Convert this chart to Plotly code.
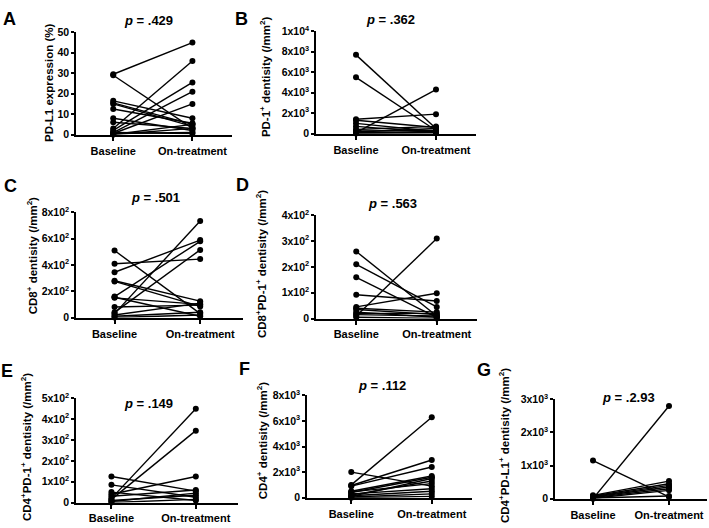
import plotly.graph_objects as go

W, H = 709, 528
categories = ["Baseline", "On-treatment"]

# ---- data (paired: baseline -> on-treatment) ----
base_A = [29.5, 29, 16.5, 15.5, 15, 12.5, 8, 6, 3, 2, 1, 0.5, 0, 0, 0.5, 1]
ot_A = [45, 3, 8, 5, 4, 5.5, 2, 3, 36, 25.5, 21, 15, 5, 3, 1, 0.5]

base_B = [7700, 5500, 1400, 1300, 1000, 700, 400, 250, 150, 100, 50, 50, 0]
ot_B = [500, 300, 1900, 600, 200, 100, 700, 300, 500, 4300, 200, 100, 50]

base_C = [510, 410, 345, 280, 275, 160, 155, 150, 80, 40, 30, 20, 10, 0]
ot_C = [30, 445, 590, 125, 85, 580, 10, 100, 95, 515, 735, 110, 40, 20]

base_D = [260, 210, 160, 92, 45, 40, 35, 25, 20, 15, 10, 5]
ot_D = [10, 45, 5, 68, 98, 25, 15, 5, 20, 10, 310, 0]

base_E = [125, 85, 50, 40, 30, 20, 15, 10, 5, 0]
ot_E = [55, 25, 10, 125, 60, 450, 345, 35, 45, 15]

base_F = [2000, 1000, 950, 900, 500, 450, 400, 300, 200, 150, 100, 50, 0]
ot_F = [900, 6300, 2950, 2400, 1700, 1100, 1600, 700, 1300, 500, 1500, 300, 100]

base_G = [1150, 100, 80, 60, 50, 30, 20, 10, 0]
ot_G = [50, 530, 450, 400, 350, 300, 80, 250, 2800]

p_values = [".429", ".362", ".501", ".563", ".149", ".112", ".2.93"]

ticks_A = [0, 10, 20, 30, 40, 50]
labels_A = ["0", "10", "20", "30", "40", "50"]
ticks_B = [0, 2000, 4000, 6000, 8000, 10000]
labels_B = ["0", "2x10<sup>3</sup>", "4x10<sup>3</sup>", "6x10<sup>3</sup>", "8x10<sup>3</sup>", "1x10<sup>4</sup>"]
ticks_C = [0, 200, 400, 600, 800]
labels_C = ["0", "2x10<sup>2</sup>", "4x10<sup>2</sup>", "6x10<sup>2</sup>", "8x10<sup>2</sup>"]
ticks_D = [0, 100, 200, 300, 400]
labels_D = ["0", "1x10<sup>2</sup>", "2x10<sup>2</sup>", "3x10<sup>2</sup>", "4x10<sup>2</sup>"]
ticks_E = [0, 100, 200, 300, 400, 500]
labels_E = ["0", "1x10<sup>2</sup>", "2x10<sup>2</sup>", "3x10<sup>2</sup>", "4x10<sup>2</sup>", "5x10<sup>2</sup>"]
ticks_F = [0, 2000, 4000, 6000, 8000]
labels_F = ["0", "2x10<sup>3</sup>", "4x10<sup>3</sup>", "6x10<sup>3</sup>", "8x10<sup>3</sup>"]
ticks_G = [0, 1000, 2000, 3000]
labels_G = ["0", "1x10<sup>3</sup>", "2x10<sup>3</sup>", "3x10<sup>3</sup>"]

titles = [
    "PD-L1 expression (%)",
    "PD-1<sup>+</sup> dentisity (/mm<sup>2</sup>)",
    "CD8<sup>+</sup> dentisity (/mm<sup>2</sup>)",
    "CD8<sup>+</sup>PD-1<sup>+</sup> dentisity (/mm<sup>2</sup>)",
    "CD4<sup>+</sup>PD-1<sup>+</sup> dentisity (/mm<sup>2</sup>)",
    "CD4<sup>+</sup> dentisity (/mm<sup>2</sup>)",
    "CD4<sup>+</sup>PD-L1<sup>+</sup> dentisity (/mm<sup>2</sup>)",
]
letters = ["A", "B", "C", "D", "E", "F", "G"]

# ---- layout geometry (pixels) ----
panels = [
    dict(base=base_A, ot=ot_A, px=(76, 232), py=(25, 130), xr=[-0.47, 1.5], yr=[0, 50], tv=ticks_A, tt=labels_A, txy=(49, 77), lxy=(9, 11), pxy=(148, 13)),
    dict(base=base_B, ot=ot_B, px=(316, 476), py=(24, 129), xr=[-0.5, 1.5], yr=[0, 10000], tv=ticks_B, tt=labels_B, txy=(265, 71), lxy=(241, 11), pxy=(390, 12)),
    dict(base=base_C, ot=ot_C, px=(76, 243), py=(210, 318), xr=[-0.45, 1.5], yr=[0, 800], tv=ticks_C, tt=labels_C, txy=(32, 255), lxy=(10, 183), pxy=(155, 195)),
    dict(base=base_D, ot=ot_D, px=(316, 477), py=(213, 319), xr=[-0.5, 1.5], yr=[0, 400], tv=ticks_D, tt=labels_D, txy=(261, 263), lxy=(242, 182), pxy=(392, 201)),
    dict(base=base_E, ot=ot_E, px=(76, 238), py=(401, 508), xr=[-0.42, 1.5], yr=[0, 500], tv=ticks_E, tt=labels_E, txy=(26, 451), lxy=(7, 373), pxy=(148, 406)),
    dict(base=base_F, ot=ot_F, px=(307, 472), py=(398, 503), xr=[-0.55, 1.5], yr=[0, 8000], tv=ticks_F, tt=labels_F, txy=(262, 445), lxy=(244, 371), pxy=(382, 388)),
    dict(base=base_G, ot=ot_G, px=(555, 707), py=(402, 504), xr=[-0.5, 1.5], yr=[0, 3000], tv=ticks_G, tt=labels_G, txy=(504, 450), lxy=(484, 372), pxy=(628, 400)),
]

FONT = "Liberation Sans, Arial, Helvetica, sans-serif"

fig = go.Figure()
layout = dict(
    width=W, height=H, margin=dict(l=0, r=0, t=0, b=0),
    paper_bgcolor="white", plot_bgcolor="white", showlegend=False,
    font=dict(family=FONT, color="black"),
)
annotations = []

def fx(px):
    return px / W

def fy(py):
    return 1 - py / H

for i, p in enumerate(panels):
    n = "" if i == 0 else str(i + 1)
    xs, ys = [], []
    for b, o in zip(p["base"], p["ot"]):
        xs += [categories[0], categories[1], None]
        ys += [b, o, None]
    fig.add_trace(go.Scatter(
        x=xs, y=ys, mode="lines+markers", xaxis="x" + n, yaxis="y" + n,
        line=dict(color="black", width=1.4),
        marker=dict(color="black", size=6),
        cliponaxis=False, hoverinfo="skip",
    ))
    layout["xaxis" + n] = dict(
        domain=[fx(p["px"][0]), fx(p["px"][1])], anchor="y" + n,
        type="category", categoryorder="array", categoryarray=categories,
        range=p["xr"], showline=True, linecolor="black", linewidth=1.5,
        ticks="outside", ticklen=5, tickwidth=1.5, tickcolor="black",
        showgrid=False, zeroline=False,
        tickfont=dict(family=FONT, size=11, color="black", weight="bold"),
    )
    layout["yaxis" + n] = dict(
        domain=[fy(p["py"][1]), fy(p["py"][0])], anchor="x" + n,
        range=p["yr"], tickvals=p["tv"], ticktext=p["tt"],
        showline=True, linecolor="black", linewidth=1.5,
        ticks="outside", ticklen=3, tickwidth=1.5, tickcolor="black",
        showgrid=False, zeroline=False,
        tickfont=dict(family=FONT, size=10.5, color="black", weight="bold"),
    )
    annotations.append(dict(
        text=titles[i], textangle=-90, xref="paper", yref="paper",
        x=fx(p["txy"][0]), y=fy(p["txy"][1]),
        xanchor="center", yanchor="middle", showarrow=False,
        font=dict(family=FONT, size=11.5, color="black", weight="bold"),
    ))
    annotations.append(dict(
        text=letters[i], xref="paper", yref="paper",
        x=fx(p["lxy"][0]), y=fy(p["lxy"][1]),
        xanchor="center", yanchor="middle", showarrow=False,
        font=dict(family=FONT, size=18, color="black", weight="bold"),
    ))
    annotations.append(dict(
        text="<i>p</i> = " + p_values[i], xref="paper", yref="paper",
        x=fx(p["pxy"][0]), y=fy(p["pxy"][1]),
        xanchor="center", yanchor="middle", showarrow=False,
        font=dict(family=FONT, size=13, color="black", weight="bold"),
    ))

layout["annotations"] = annotations
fig.update_layout(**layout)
fig.write_html(
    "out.html",
    config={"displayModeBar": False},
    post_script="document.body.style.margin='0px';document.body.style.overflow='hidden';",
)
